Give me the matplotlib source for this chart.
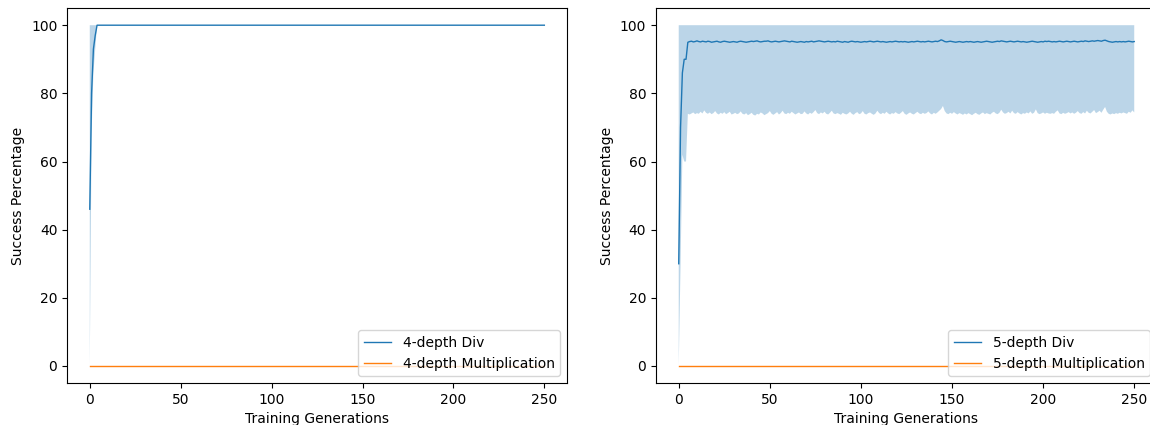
import numpy as np
import matplotlib.pyplot as plt

gens = np.arange(0, 251)

# left panel: 4-depth
div4_mean = [46, 80, 93, 97] + [100] * 247
div4_low = [0, 68, 86, 93] + [100] * 247
div4_high = [100] * 251
mult4_mean = [0] * 251

# right panel: 5-depth
div5_mean = [30, 70, 86, 90, 90,
    95.0, 95.2, 95.3, 95.1, 95.2, 95.4, 95.2, 95.1, 95.3, 95.2,
    95.1, 95.3, 95.2, 95.0, 95.1, 95.2, 95.3, 95.1, 95.0, 95.2,
    95.3, 95.2, 95.1, 95.0, 95.1, 95.2, 95.1, 95.0, 95.2, 95.3,
    95.2, 95.1, 95.0, 95.1, 95.2, 95.3, 95.2, 95.3, 95.4, 95.2,
    95.1, 95.2, 95.3, 95.3, 95.4, 95.2, 95.1, 95.2, 95.3, 95.2,
    95.1, 95.2, 95.3, 95.4, 95.3, 95.2, 95.1, 95.3, 95.2, 95.1,
    95.0, 95.1, 95.2, 95.1, 95.0, 95.2, 95.1, 95.2, 95.3, 95.1,
    95.2, 95.3, 95.4, 95.3, 95.2, 95.1, 95.2, 95.3, 95.2, 95.1,
    95.2, 95.1, 95.3, 95.2, 95.1, 95.0, 95.2, 95.1, 95.0, 95.2,
    95.3, 95.2, 95.1, 95.2, 95.1, 95.0, 95.1, 95.2, 95.1, 95.2,
    95.3, 95.2, 95.1, 95.2, 95.3, 95.2, 95.1, 95.2, 95.1, 95.0,
    95.1, 95.2, 95.1, 95.2, 95.3, 95.2, 95.1, 95.2, 95.1, 95.2,
    95.1, 95.0, 95.1, 95.2, 95.1, 95.2, 95.3, 95.2, 95.1, 95.2,
    95.1, 95.2, 95.3, 95.2, 95.1, 95.2, 95.3, 95.2, 95.4, 95.7,
    95.5, 95.2, 95.1, 95.2, 95.3, 95.2, 95.1, 95.0, 95.1, 95.2,
    95.1, 95.0, 95.1, 95.2, 95.1, 95.2, 95.1, 95.0, 95.1, 95.2,
    95.1, 95.0, 95.1, 95.2, 95.3, 95.2, 95.1, 95.0, 95.1, 95.2,
    95.3, 95.2, 95.4, 95.3, 95.2, 95.1, 95.2, 95.3, 95.2, 95.1,
    95.2, 95.3, 95.2, 95.1, 95.2, 95.1, 95.0, 95.1, 95.2, 95.3,
    95.2, 95.1, 95.0, 95.1, 95.2, 95.1, 95.3, 95.2, 95.3, 95.2,
    95.1, 95.2, 95.1, 95.2, 95.3, 95.2, 95.1, 95.2, 95.3, 95.2,
    95.1, 95.2, 95.3, 95.2, 95.1, 95.2, 95.3, 95.2, 95.4, 95.3,
    95.2, 95.3, 95.4, 95.3, 95.4, 95.5, 95.4, 95.3, 95.5, 95.6,
    95.4, 95.2, 95.1, 95.0, 95.1, 95.2, 95.1, 95.2, 95.1, 95.2,
    95.1, 95.2, 95.3, 95.2, 95.1, 95.2]
div5_low = [0, 30, 62, 60, 60,
    74.0, 73.8, 74.1, 74.4, 73.9, 74.2, 74.0, 74.6, 74.1, 75.0,
    74.3, 74.0, 74.4, 73.9, 74.2, 74.8, 74.1, 73.8, 74.3, 74.0,
    74.5, 73.9, 74.2, 74.6, 73.8, 74.0, 74.3, 73.9, 74.1, 74.7,
    74.0, 73.8, 74.2, 73.6, 73.9, 74.3, 73.7, 73.5, 74.0, 73.8,
    74.4, 74.1, 73.6, 73.9, 74.2, 74.8, 74.0, 73.7, 74.1, 74.5,
    73.8, 74.2, 74.9, 74.1, 73.9, 74.3, 74.0, 74.6, 74.2, 73.8,
    74.1, 74.4, 73.9, 74.0, 74.7, 74.1, 73.8, 74.3, 74.0, 74.5,
    75.1, 74.2, 73.9, 74.4, 74.1, 74.6, 74.0, 73.8, 74.3, 74.9,
    74.1, 73.9, 74.2, 74.0, 73.7, 74.3, 74.0, 73.8, 74.1, 74.6,
    74.0, 73.7, 74.2, 74.5, 73.9, 74.1, 74.8, 74.0, 73.8, 74.2,
    74.4, 74.0, 73.7, 74.1, 74.9, 74.2, 73.9, 74.3, 74.0, 74.6,
    74.1, 73.8, 74.2, 74.0, 74.5, 74.1, 73.9, 74.3, 74.8, 74.0,
    73.7, 74.1, 74.4, 74.0, 73.8, 74.2, 74.6, 74.1, 73.9, 74.3,
    74.0, 74.2, 74.7, 74.1, 73.8, 74.3, 74.0, 74.4, 74.9, 75.4,
    76.3, 74.8, 74.1, 73.9, 74.3, 74.0, 74.5, 74.1, 73.8, 74.2,
    74.0, 73.7, 74.1, 73.8, 74.2, 73.9, 73.6, 74.0, 74.3, 73.9,
    73.7, 74.1, 74.4, 73.9, 74.2, 74.0, 73.8, 74.3, 74.6, 74.1,
    73.9, 74.3, 75.2, 74.4, 74.0, 74.2, 74.6, 74.1, 74.9, 74.2,
    74.0, 74.5, 74.1, 73.8, 74.2, 74.0, 74.4, 74.1, 74.7, 74.0,
    74.3, 75.3, 74.2, 73.9, 74.1, 74.4, 74.0, 74.3, 74.1, 74.0,
    74.2, 74.0, 74.6, 75.0, 74.1, 73.9, 74.3, 74.0, 74.2, 74.5,
    74.1, 74.4, 74.0, 74.3, 74.8, 74.2, 74.0, 74.5, 74.1, 74.9,
    74.3, 74.1, 74.6, 75.1, 74.2, 74.5, 74.9, 74.3, 75.2, 76.0,
    74.6, 74.0, 73.8, 74.1, 73.9, 74.2, 74.0, 74.3, 74.1, 74.4,
    74.2, 74.0, 74.6, 74.3, 75.0, 74.4]
div5_high = [100] * 251
mult5_mean = [0] * 251

fig = plt.figure(figsize=(11.5, 4.25), dpi=100)
ax1 = fig.add_axes([0.0583, 0.0988, 0.4348, 0.882])
ax2 = fig.add_axes([0.5704, 0.0988, 0.4357, 0.882])

panels = [
    (ax1, div4_mean, div4_low, div4_high, mult4_mean, '4-depth'),
    (ax2, div5_mean, div5_low, div5_high, mult5_mean, '5-depth'),
]
for ax, mean, low, high, mult, name in panels:
    ax.plot(gens, mean, label=name + ' Div', linewidth=1)
    ax.fill_between(gens, low, high, alpha=0.3, linewidth=0)
    ax.plot(gens, mult, label=name + ' Multiplication', linewidth=1)
    ax.set_xlabel('Training Generations')
    ax.set_ylabel('Success Percentage')
    ax.legend(loc='lower right')

fig.savefig('out.png', dpi=100)
